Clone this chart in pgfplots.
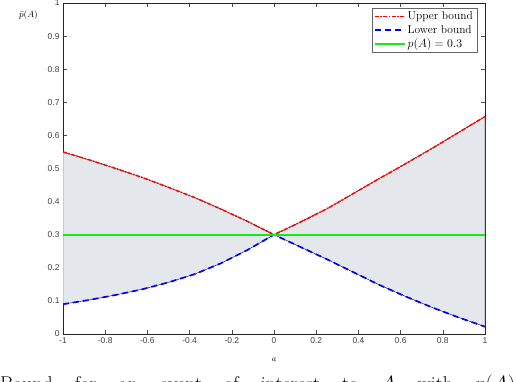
\documentclass[border=0pt]{standalone}
\usepackage{fontspec}
\setsansfont{Liberation Sans}
\usepackage{pgfplots}
\pgfplotsset{compat=1.18}
\definecolor{fillc}{RGB}{228,232,237}
\definecolor{grn}{RGB}{20,235,20}
\begin{document}
\begin{tikzpicture}
\begin{axis}[
  at={(0,0)}, anchor=south west,
  scale only axis, width=422bp, height=331bp,
  xmin=-1, xmax=1, ymin=0, ymax=1,
  xtick={-1,-0.8,-0.6,-0.4,-0.2,0,0.2,0.4,0.6,0.8,1},
  xticklabels={-1,-0.8,-0.6,-0.4,-0.2,0,0.2,0.4,0.6,0.8,1},
  ytick={0,0.1,0.2,0.3,0.4,0.5,0.6,0.7,0.8,0.9,1},
  yticklabels={0,0.1,0.2,0.3,0.4,0.5,0.6,0.7,0.8,0.9,1},
  /pgf/number format/assume math mode=true,
  ticklabel style={font=\sffamily\fontsize{8.5}{10}\selectfont, text=black!75},
  tick align=inside, major tick length=4bp,
  tick style={black!70, line width=0.4pt},
  axis line style={black!85, line width=0.5pt},
  xlabel={$a$},
  xlabel style={at={(axis description cs:0.5,-0.078)}, anchor=center, font=\fontsize{8}{9}\selectfont},
  ylabel={$\bar{p}(A)$},
  ylabel style={rotate=-90, at={(axis description cs:-0.082,0.962)}, anchor=center, font=\fontsize{9}{10}\selectfont},
  legend style={at={(0.981,0.985)}, anchor=north east, draw=black!60, line width=0.4pt,
    font=\fontsize{11.5}{14}\selectfont, inner xsep=2bp, inner ysep=1.5bp, row sep=0bp},
  legend cell align=left,
  legend image code/.code={\draw[#1] (0bp,0bp) -- (30bp,0bp);},
]
% shaded region between the bounds
\addplot[fill=fillc, draw=black, line width=0.4pt, forget plot] coordinates {
  (-1,0.550) (-0.875,0.526) (-0.75,0.500) (-0.625,0.473) (-0.5,0.443)
  (-0.375,0.412) (-0.25,0.377) (-0.125,0.340) (0,0.300)
  (0.125,0.338) (0.25,0.378) (0.375,0.424) (0.5,0.470)
  (0.625,0.515) (0.75,0.561) (0.875,0.609) (1,0.657)
  (1,0.022) (0.875,0.050) (0.75,0.080) (0.625,0.113) (0.5,0.148)
  (0.375,0.187) (0.25,0.226) (0.125,0.263) (0,0.300)
  (-0.125,0.254) (-0.25,0.214) (-0.375,0.181) (-0.5,0.156)
  (-0.625,0.135) (-0.75,0.118) (-0.875,0.103) (-1,0.090)
} -- cycle;
% upper bound
\addplot[red, line width=1.5bp, dash pattern=on 4bp off 1.5bp on 1.5bp off 1.5bp] coordinates {
  (-1,0.550) (-0.875,0.526) (-0.75,0.500) (-0.625,0.473) (-0.5,0.443)
  (-0.375,0.412) (-0.25,0.377) (-0.125,0.340) (0,0.300)
  (0.125,0.338) (0.25,0.378) (0.375,0.424) (0.5,0.470)
  (0.625,0.515) (0.75,0.561) (0.875,0.609) (1,0.657)
};
\addlegendentry{Upper bound}
% lower bound
\addplot[blue, line width=1.7bp, dash pattern=on 6bp off 4bp] coordinates {
  (-1,0.090) (-0.875,0.103) (-0.75,0.118) (-0.625,0.135) (-0.5,0.156)
  (-0.375,0.181) (-0.25,0.214) (-0.125,0.254) (0,0.300)
  (0.125,0.263) (0.25,0.226) (0.375,0.187) (0.5,0.148)
  (0.625,0.113) (0.75,0.080) (0.875,0.050) (1,0.022)
};
\addlegendentry{Lower bound}
% p(A) = 0.3
\addplot[grn, line width=1.8bp] coordinates {(-1,0.3) (1,0.3)};
\addlegendentry{$p(A)=0.3$}
\end{axis}
\node[anchor=base west, inner sep=0pt, font=\fontsize{20}{24}\selectfont] at (-63bp,-56bp)
  {\makebox[515bp][s]{Bound for an event of interest to $A$ with $p(A)$}};
\pgfresetboundingbox
\useasboundingbox (-63bp,-48bp) rectangle (453bp,334bp);
\end{tikzpicture}
\end{document}
